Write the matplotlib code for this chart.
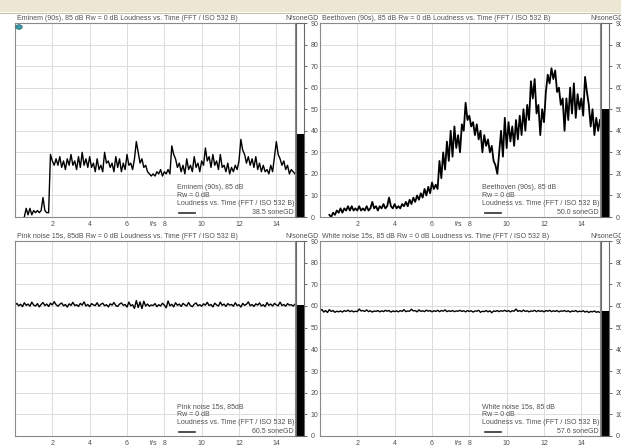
import numpy as np
import matplotlib.pyplot as plt
from matplotlib.patches import Rectangle, Circle

plt.rcParams['font.family'] = ['Liberation Sans', 'DejaVu Sans']

# loudness N (soneGD) vs time
eminem_t0 = 0.5
eminem = [0, 4, 1, 4, 1, 3, 2, 3, 2, 3, 9, 3, 2, 2,
          29, 26, 24, 27, 24, 28, 23, 26, 22, 27, 24, 29, 24, 26, 22, 28,
          23, 30, 24, 27, 23, 28, 23, 25, 21, 27, 22, 24, 21, 30, 25, 26,
          23, 25, 21, 28, 23, 27, 21, 25, 22, 29, 24, 25, 22, 27, 35, 30,
          25, 27, 23, 24, 21, 20, 19, 20, 19, 21, 20, 22, 19, 21, 20, 22,
          20, 33, 29, 27, 23, 25, 21, 24, 20, 27, 22, 24, 21, 28, 23, 25,
          21, 26, 24, 32, 26, 28, 23, 29, 24, 26, 22, 29, 23, 24, 21, 25,
          20, 23, 21, 24, 22, 26, 36, 31, 29, 25, 28, 24, 27, 23, 28, 22,
          25, 21, 24, 21, 22, 20, 24, 21, 28, 35, 29, 27, 24, 26, 22, 24,
          20, 22, 21, 20]

beethoven_t0 = 0.5
beethoven = [1, 0, 2, 1, 3, 2, 4, 2, 4, 3, 5, 3, 5, 3, 4, 3, 5, 3, 4, 3,
             5, 3, 4, 7, 4, 5, 3, 5, 4, 6, 4, 5, 9, 5, 4, 6, 4, 5, 4, 6,
             5, 7, 5, 8, 6, 9, 7, 10, 8, 11, 9, 13, 10, 14, 11, 16, 13, 15, 13, 26,
             18, 30, 22, 35, 26, 40, 28, 42, 32, 38, 30, 43, 40, 53, 45, 47, 42, 44, 38, 43,
             36, 40, 30, 38, 33, 36, 30, 33, 26, 24, 20, 30, 40, 28, 46, 32, 44, 35, 42, 33,
             45, 36, 47, 38, 50, 40, 52, 45, 63, 55, 64, 48, 52, 38, 50, 44, 58, 66, 62, 69,
             64, 68, 58, 60, 52, 55, 40, 55, 45, 60, 48, 62, 46, 57, 50, 55, 47, 65, 58, 52,
             42, 50, 38, 46, 40, 45]

pink_t0 = 0.0
pink = [60.5, 61.2, 60.1, 60.8, 59.7, 61.5, 60.3, 60.9, 59.9, 61.8, 60.4, 60.0, 61.1, 59.6,
        60.7, 61.6, 60.2, 60.9, 59.8, 61.3, 60.5, 62.0, 60.6, 59.9, 60.8, 61.4, 60.1, 60.7,
        59.5, 61.0, 60.3, 61.7, 60.2, 60.6, 59.8, 61.2, 60.4, 61.9, 60.0, 60.7, 59.7, 61.1,
        60.5, 60.2, 61.5, 59.9, 60.8, 61.3, 60.1, 60.6, 59.6, 61.0, 60.4, 61.6, 60.2, 59.8,
        60.9, 61.4, 60.3, 60.7, 59.5, 61.8, 60.1, 60.6, 58.9, 62.5, 59.3, 61.9, 58.8, 62.2,
        60.0, 60.9, 59.9, 60.5, 60.2, 61.1, 59.7, 60.6, 60.0, 61.3, 60.4, 59.2, 62.3, 60.1,
        60.8, 59.6, 61.5, 60.3, 60.9, 59.8, 61.2, 60.5, 60.0, 61.6, 60.2, 59.7, 60.8, 61.4,
        60.1, 60.6, 59.9, 61.0, 60.4, 61.7, 60.2, 60.7, 59.6, 61.3, 60.5, 60.0, 61.8, 60.3,
        60.9, 59.8, 61.1, 60.4, 60.7, 59.9, 61.5, 60.2, 60.6, 59.5, 61.2, 60.3, 60.8, 61.9,
        60.1, 60.7, 59.8, 61.0, 60.4, 61.4, 60.0, 60.6, 59.7, 61.6, 60.3, 60.9, 60.0, 61.2,
        60.5, 60.1, 61.8, 60.2, 60.7, 59.9, 61.1, 60.4, 60.6, 60.0, 60.8]

white_t0 = 0.0
white = [57.8, 58.4, 57.2, 57.9, 57.0, 58.3, 57.5, 57.9, 57.1, 57.6, 57.3, 57.7, 57.2, 57.9,
         57.5, 58.1, 57.4, 57.8, 57.3, 57.6, 57.4, 58.6, 57.7, 57.9, 57.5, 58.2, 57.4, 57.8,
         57.2, 57.7, 57.5, 57.9, 57.3, 57.8, 57.4, 58.0, 57.6, 57.9, 57.2, 57.7, 57.4, 57.8,
         57.3, 57.9, 57.5, 58.3, 57.4, 57.7, 57.6, 58.5, 57.7, 57.9, 57.3, 58.2, 57.5, 57.8,
         57.4, 58.1, 57.6, 57.9, 57.3, 57.8, 57.5, 58.0, 57.4, 57.9, 57.6, 58.2, 57.4, 57.8,
         57.5, 57.9, 57.4, 57.7, 57.6, 58.0, 57.5, 57.8, 57.3, 57.9, 57.5, 57.8, 57.2, 57.7,
         57.6, 58.0, 57.1, 57.6, 57.4, 57.9, 57.3, 57.8, 56.9, 57.7, 57.5, 57.9, 57.4, 57.8,
         57.6, 58.0, 57.5, 57.9, 57.3, 57.8, 57.6, 58.6, 57.5, 57.9, 57.4, 58.1, 57.5, 57.8,
         57.3, 57.7, 57.6, 58.0, 57.4, 57.9, 57.5, 57.8, 57.3, 57.9, 57.6, 58.0, 57.4, 57.8,
         57.5, 57.9, 57.3, 57.7, 57.6, 57.9, 57.4, 57.8, 57.2, 57.7, 57.5, 57.9, 57.3, 57.6,
         57.4, 57.8, 57.2, 57.6, 57.0, 57.5, 57.3, 57.7, 57.1, 57.4, 57.0]

names = ['Eminem (90s), 85 dB', 'Beethoven (90s), 85 dB',
         'Pink noise 15s, 85dB', 'White noise 15s, 85 dB']
titles = ['Eminem (90s), 85 dB Rw = 0 dB Loudness vs. Time (FFT / ISO 532 B)',
          'Beethoven (90s), 85 dB Rw = 0 dB Loudness vs. Time (FFT / ISO 532 B)',
          'Pink noise 15s, 85dB Rw = 0 dB Loudness vs. Time (FFT / ISO 532 B)',
          'White noise 15s, 85 dB Rw = 0 dB Loudness vs. Time (FFT / ISO 532 B)']
totals = [38.5, 50.0, 60.5, 57.6]
series = [(eminem_t0, eminem), (beethoven_t0, beethoven), (pink_t0, pink), (white_t0, white)]
xticks = [2, 4, 6, 8, 10, 12, 14]
yticks = [0, 10, 20, 30, 40, 50, 60, 70, 80, 90]

W, H = 621, 445


def box(x0, y0, x1, y1):
    # pixel box -> figure fraction
    return [x0 / W, 1 - y1 / H, (x1 - x0) / W, (y1 - y0) / H]


fig = plt.figure(figsize=(W / 100, H / 100), dpi=100)
fig.patch.set_facecolor('white')

# tan window strip on top
fig.add_artist(Rectangle((0, 1 - 12 / H), 1, 12 / H, transform=fig.transFigure,
                         facecolor='#ebe7d3', edgecolor='none'))
fig.add_artist(plt.Line2D([0, 1], [1 - 12.5 / H] * 2, transform=fig.transFigure,
                          color='#c9c2a2', lw=0.8))

txt = '#505050'
fs = 5
# (plot x0, x1, y0, y1) in pixels
boxes = [(15, 295, 23, 217), (320, 600, 23, 217),
         (15, 295, 241, 436), (320, 600, 241, 436)]

for i, (x0, x1, y0, y1) in enumerate(boxes):
    t0, vals = series[i]
    t = np.linspace(t0, 15, len(vals))

    ax = fig.add_axes(box(x0, y0, x1, y1))
    ax.plot(t, vals, color='black', lw=1.3 if i == 1 else 1.0)
    ax.set_xlim(0, 15)
    ax.set_ylim(0, 90)
    ax.set_xticks(xticks)
    ax.set_yticks(yticks[1:-1])
    ax.set_yticklabels([])
    ax.grid(True, color='#dcdcdc', lw=0.7)
    ax.set_axisbelow(True)
    ax.tick_params(axis='both', length=0, labelsize=fs, colors=txt, pad=3)
    for s in ax.spines.values():
        s.set_color('#8a8a8a')
        s.set_linewidth(0.8)
    ax.text(7.45, -0.021, 't/s', transform=ax.get_xaxis_transform(),
            ha='center', va='top', fontsize=fs, color=txt)

    # legend block in lower right corner
    lx = 0.577 if i % 2 == 0 else 0.58
    ax.text(lx, 0.052, names[i] + '\nRw = 0 dB\nLoudness vs. Time (FFT / ISO 532 B)',
            transform=ax.transAxes, fontsize=fs, color=txt, va='bottom', ha='left',
            linespacing=1.2)
    ax.plot([lx + 0.01, lx + 0.065], [0.022, 0.022], transform=ax.transAxes,
            color='#303030', lw=1.2)
    ax.text(0.995, 0.004, f'{totals[i]:.1f} soneGD', transform=ax.transAxes,
            fontsize=fs, color=txt, ha='right', va='bottom')

    # title strip
    fig.text((x0 + 2) / W, 1 - (y0 - 5) / H, titles[i], fontsize=fs, color=txt,
             va='center', ha='left')
    fig.text((x1 - 10) / W, 1 - (y0 - 5) / H, 'N/soneGD', fontsize=fs, color=txt,
             va='center', ha='left')

    # total loudness bar with its scale
    bx = fig.add_axes(box(x1 + 1, y0, x1 + 9, y1))
    bx.bar([0.5], [totals[i]], width=1.0, color='black')
    bx.set_xlim(0, 1)
    bx.set_ylim(0, 90)
    bx.set_xticks([])
    bx.set_yticks(yticks)
    bx.yaxis.tick_right()
    bx.tick_params(axis='y', length=2, width=0.6, labelsize=fs, colors=txt, pad=3)
    for s in bx.spines.values():
        s.set_color('#6a6a6a')
        s.set_linewidth(0.8)

# little icon in the top-left corner
fig.add_artist(Circle((19 / W, 1 - 27 / H), 3.2 / W, transform=fig.transFigure,
                      facecolor='#3d9aa8', edgecolor='#1f5f6a', lw=0.5))

plt.savefig('out.png', dpi=100)
